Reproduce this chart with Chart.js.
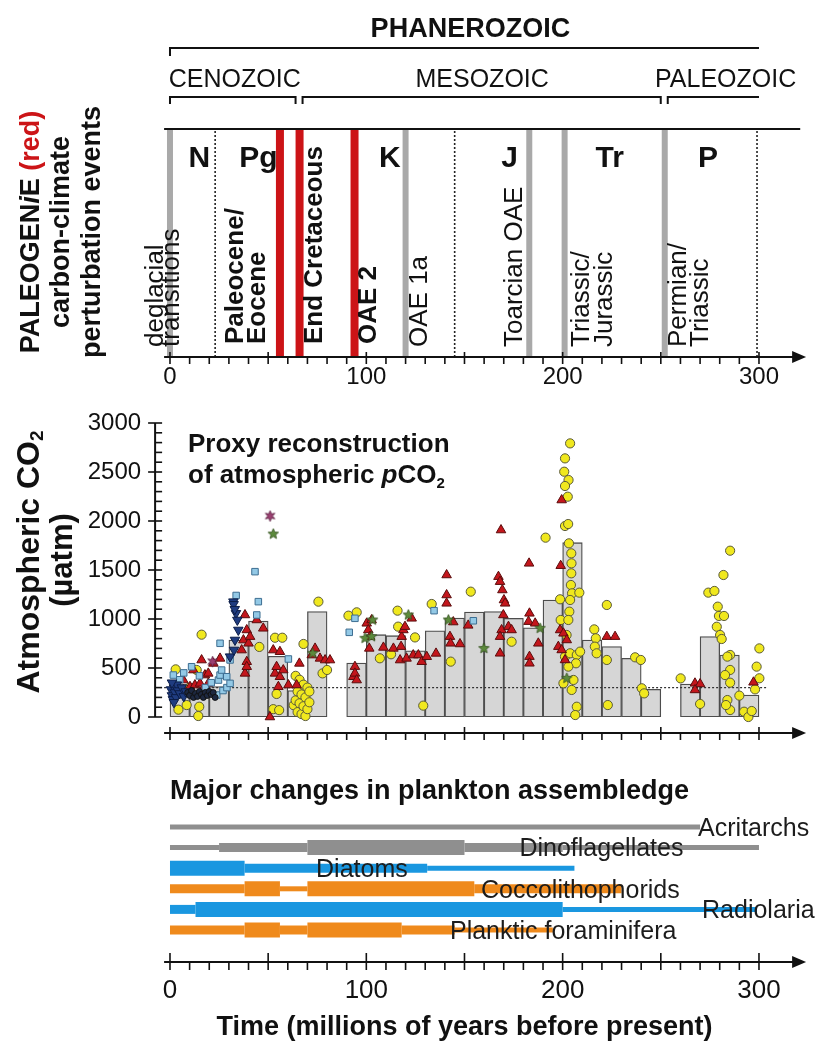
<!DOCTYPE html>
<html>
<head>
<meta charset="utf-8">
<script src="https://cdn.jsdelivr.net/npm/chart.js@4.4.1/dist/chart.umd.min.js"></script>
<style>
  body { margin: 0; background: #fff; }
  #wrap { position: relative; width: 817px; height: 1041px; overflow: hidden; background: #fff; }
  #wrap canvas { position: absolute; left: 0; }
</style>
</head>
<body>
<div id="wrap">
  <canvas id="eventsChart" width="817" height="400" style="top:0;width:817px;height:400px"></canvas>
  <canvas id="co2Chart" width="817" height="360" style="top:400px;width:817px;height:360px"></canvas>
  <canvas id="planktonChart" width="817" height="281" style="top:760px;width:817px;height:281px"></canvas>
</div>
<script>
// ---------- time frame (Myr before present) ----------
const eraNames = ['CENOZOIC', 'MESOZOIC', 'PALEOZOIC'];
const eraBounds = [0, 66, 252, 300];
const eraLabelAt = [33, 159, 283];
const periodNames = ['N', 'Pg', 'K', 'J', 'Tr', 'P'];
const periodLabelAt = [15, 45, 112, 173, 224, 274];
const periodBounds = [23, 66, 145, 201, 252, 299];
const timeTickLabels = [0, 100, 200, 300];

// carbon-climate perturbation events
const paleogenieEvents = [56, 66, 94];
const otherEvents = [0, 120, 183, 201, 252];
const eventLabels = [['deglacial', 'transitions'], ['Paleocene/', 'Eocene'], ['End Cretaceous'], ['OAE 2'],
  ['OAE 1a'], ['Toarcian OAE'], ['Triassic/', 'Jurassic'], ['Permian/', 'Triassic']];
const eventLabelAt = [[-7, 1], [33.6, 44.8], [73.9], [101.4], [127.4], [175.8], [209.9, 221.6], [259.3, 270.5]];
const eventLabelBold = [false, true, true, true, false, false, false, false];

// ---------- pCO2 proxy reconstruction ----------
const co2TickLabels = [0, 500, 1000, 1500, 2000, 2500, 3000];
const binStarts = [0, 10, 20, 30, 40, 50, 60, 70, 80, 90, 100, 110, 120, 130, 140,
  150, 160, 170, 180, 190, 200, 210, 220, 230, 240, 250, 260, 270, 280, 290];
const binMeanCO2 = [330, 330, 310, 785, 980, 620, 270, 1075, null, 550, 840, 830, 675, 880, 1010,
  1070, 1075, 1007, 911, 1194, 1779, 786, 718, 599, 282, null, 337, 820, 633, 224];
const referenceCO2 = 300;

const paleosolCO2 = [[2.9, 486], [4.3, 75], [8.5, 122], [14.9, 105], [14.4, 10], [16.1, 840], [13.6, 480], [10, 300],
  [45.5, 715], [53.5, 809], [57.2, 809], [54.3, 235], [52.6, 80], [55.6, 70],
  [63, 120], [64, 420], [64, 170], [65, 260], [65, 50], [66, 380], [66, 140], [67, 230], [67, 30], [68, 330],
  [68, 110], [69, 200], [69, 10], [70, 300], [70, 80], [71, 150], [71, 260], [68, 745], [75.6, 1177], [77.7, 445], [80, 480],
  [90.9, 1034], [95.1, 1068], [106.9, 599], [112.6, 640], [115.9, 1085], [116.2, 922], [124.8, 812], [129, 116],
  [133.3, 1153], [143, 565], [153.2, 1279], [174, 768], [191.3, 1830],
  [203.8, 2792], [201.2, 2639], [200.8, 2503], [203, 2418], [201.2, 2357], [202.6, 2248], [201.2, 1949], [202.8, 1969],
  [203.2, 1772], [204.4, 1670], [204.5, 1568], [204.4, 1466], [204.2, 1347], [204.8, 1262], [208.5, 1269], [198.7, 1201],
  [203.8, 1194], [203.4, 1075], [199, 990], [202.9, 990], [202, 837], [201.2, 616], [203.8, 650], [207.2, 633],
  [206.8, 548], [202.9, 514], [205.5, 378], [200.4, 344], [204.6, 276], [207.2, 105], [206.4, 20], [208.9, 667],
  [222.5, 1143], [216.1, 894], [216.9, 803], [216.4, 718], [217.3, 650], [222.5, 582], [223, 122],
  [236.9, 609], [239.8, 582], [240.3, 293], [241.5, 241], [260.1, 394], [270, 133],
  [285.3, 1697], [281.9, 1449], [274.2, 1269], [277.3, 1286], [279, 1126], [279.6, 1031], [282.2, 1031], [278.5, 921],
  [280.2, 837], [281, 796], [285.3, 633], [283.9, 616], [285.3, 480], [282.7, 428], [285.3, 350], [283.9, 173],
  [285.3, 71], [283.2, 122], [290, 218], [292.4, 54], [294.6, 0], [296.3, 61], [300.2, 700], [298.8, 514],
  [300.2, 395], [298, 282]];
const stomataCO2 = [[3.4, 275], [6.8, 275], [6.8, 377], [10.2, 309], [11.9, 479], [12.7, 326], [15.3, 343], [16.1, 581],
  [16.1, 258], [17.8, 428], [19.5, 445], [19.5, 343], [22.1, 547], [25.5, 598],
  [36.5, 683], [37.4, 785], [38.2, 1041], [38.2, 445], [39.1, 888], [39.1, 564], [39.1, 513], [40, 752], [40.8, 820],
  [44.2, 990], [47.5, 905], [50.9, 0], [52.6, 683], [53.5, 445], [54.3, 513], [55.2, 309], [56, 666], [56, 411],
  [57.7, 479], [60.3, 326], [64.5, 326], [65.9, 547], [72.2, 632], [73.9, 700], [76.4, 598], [79, 581], [81.5, 581],
  [93.4, 411], [94.2, 514], [94.2, 445], [95.1, 377], [100.2, 956], [101, 888], [101.5, 700], [101.9, 820], [102.7, 990],
  [108.7, 710], [113.8, 700], [117.2, 581], [117.7, 718], [118, 820], [118.9, 888], [119.7, 922], [120.5, 598], [123.1, 1007],
  [123.9, 632], [126.5, 632], [128.2, 564], [130.8, 615], [135.5, 649],
  [140.9, 1449], [140.9, 1245], [140.9, 1160], [142.6, 820], [142.9, 752], [144.3, 969], [147.7, 745], [151.9, 935],
  [167.3, 1432], [168.1, 1381], [168.6, 1908], [169.3, 1296], [170.1, 1194], [170.7, 1160], [169.8, 1041], [168.9, 888],
  [172.4, 922], [174, 888], [168.1, 820], [168.1, 650], [182.9, 1568], [183.1, 1058], [182.6, 973], [186, 956],
  [187.6, 752], [183.1, 616], [183.1, 548], [199.5, 2214], [199, 1544], [198.7, 888], [200.4, 854], [197.8, 718],
  [202.1, 786], [199.5, 684], [201.2, 582], [222.5, 820], [226.7, 820],
  [267.4, 344], [270, 337], [267.4, 276], [297.2, 354]];
const boronCO2 = [[1.7, 428], [5, 380], [7, 450], [11, 513], [15, 420], [18, 300], [21, 350], [23.8, 224], [24.7, 377],
  [25.5, 428], [26.3, 479], [25.5, 752], [27, 270], [28.9, 411], [29, 300], [30.6, 343], [30.6, 582], [33.7, 1240],
  [43.3, 1483], [45, 1177], [44.2, 1041], [60.3, 592], [91.3, 864], [94.2, 1007], [134.5, 1085], [154.5, 982]];
const alkenoneCO2 = [[0.5, 280], [1, 220], [1.5, 180], [2, 300], [2.5, 250], [3, 200], [3.5, 330], [4, 270], [5, 240],
  [6, 300], [7, 210], [8, 260], [1, 350], [2, 150], [30.6, 616], [32.3, 1177], [32.6, 684], [33.1, 786], [33.6, 1058],
  [34.3, 990], [34.8, 888], [32.4, 1150], [33, 1100]];
const iceAndOtherCO2 = [[9, 250], [10, 220], [11, 270], [12, 200], [13, 240], [14, 210], [15, 260], [16, 230],
  [17, 200], [18, 250], [19, 220], [20, 260], [21, 230], [22, 250], [23, 200]];
const liverwortCO2 = [[52.6, 1867], [72.7, 650], [99.3, 803], [102.7, 820], [103.2, 990], [121.4, 1041],
  [141.8, 990], [159.9, 700], [188.5, 905], [202.1, 395]];
const nahcoliteCO2 = [[51, 2051], [21.7, 565]];

// ---------- plankton assemblage (diversity level 1 low .. 3 high) ----------
const taxa = ['Acritarchs', 'Dinoflagellates', 'Diatoms', 'Coccolithophorids', 'Radiolaria', 'Planktic foraminifera'];
const taxaBreaks = [
  [0, 270],
  [0, 25, 70, 150, 200, 300],
  [0, 38, 131, 206],
  [0, 38, 56, 70, 155, 230],
  [0, 13, 200, 299],
  [0, 38, 56, 70, 118, 145, 195]
];
const taxaLevels = [
  [1],
  [1, 2, 3, 2, 1],
  [3, 2, 1],
  [2, 3, 1, 3, 2],
  [2, 3, 1],
  [2, 3, 2, 3, 2, 1]
];
const taxaLabelAt = [269, 178, 74.4, 158.4, 271, 142.6];

// ---------- styling ----------
const FONT = '"Liberation Sans", Arial, Helvetica, sans-serif';
const INK = '#111';
const RED = '#cc1417';
const taxaColors = ['#8f8f8f', '#8f8f8f', '#1a97e0', '#ef8a1c', '#1a97e0', '#ef8a1c'];
const levelWidth = { 1: 5, 2: 9, 3: 15 };
const X_MIN = -3, X_MAX = 324;
const xScale = { type: 'linear', min: X_MIN, max: X_MAX, display: false, offset: false };
const pad = (top, bottom) => ({ left: 164.1, right: 10.9, top, bottom });
const baseOptions = {
  responsive: false,
  animation: false,
  devicePixelRatio: 1,
  events: [],
  plugins: { legend: { display: false }, tooltip: { enabled: false } }
};

const starImage = (fill, stroke, n, size) => {
  const c = document.createElement('canvas');
  c.width = c.height = size;
  const g = c.getContext('2d');
  const r = size / 2 - 1, ri = r * 0.45;
  g.beginPath();
  for (let i = 0; i < 2 * n; i++) {
    const a = -Math.PI / 2 + i * Math.PI / n;
    const rr = i % 2 ? ri : r;
    g.lineTo(size / 2 + rr * Math.cos(a), size / 2 + rr * Math.sin(a));
  }
  g.closePath();
  g.fillStyle = fill;
  g.fill();
  g.strokeStyle = stroke;
  g.lineWidth = 0.8;
  g.stroke();
  return c;
};

// rotated or straight text made of differently styled parts
const drawParts = (ctx, parts, x, y, align, rotate) => {
  ctx.save();
  ctx.translate(x, y);
  if (rotate) ctx.rotate(-Math.PI / 2);
  ctx.textAlign = 'left';
  let total = 0;
  parts.forEach(p => { ctx.font = p.font; total += ctx.measureText(p.t).width; });
  let cx = align === 'center' ? -total / 2 : 0;
  parts.forEach(p => {
    ctx.font = p.font;
    ctx.fillStyle = p.color || INK;
    ctx.fillText(p.t, cx, p.dy || 0);
    cx += ctx.measureText(p.t).width;
  });
  ctx.restore();
};

const timeAxis = (ctx, x, y, majUp, tickDown) => {
  const x0 = x.getPixelForValue(X_MIN);
  const tip = x.getPixelForValue(X_MAX);
  ctx.strokeStyle = INK;
  ctx.fillStyle = INK;
  ctx.lineWidth = 2;
  ctx.beginPath();
  ctx.moveTo(x0, y);
  ctx.lineTo(tip - 8, y);
  ctx.stroke();
  ctx.beginPath();
  ctx.moveTo(tip, y);
  ctx.lineTo(tip - 14, y - 6);
  ctx.lineTo(tip - 14, y + 6);
  ctx.closePath();
  ctx.fill();
  ctx.lineWidth = 1.6;
  for (let v = 0; v <= 300; v += 10) {
    const px = x.getPixelForValue(v);
    ctx.beginPath();
    ctx.moveTo(px, y - (v % 50 === 0 ? majUp : 0));
    ctx.lineTo(px, y + tickDown);
    ctx.stroke();
  }
};

// ---------- panel 1: events ----------
const eventsDecor = {
  id: 'eventsDecor',
  afterDraw(chart) {
    const { ctx, chartArea: a, scales: { x } } = chart;
    ctx.save();
    ctx.strokeStyle = INK;
    ctx.fillStyle = INK;
    ctx.lineWidth = 2;
    ctx.beginPath();
    ctx.moveTo(x.getPixelForValue(X_MIN), a.top);
    ctx.lineTo(x.getPixelForValue(321), a.top);
    ctx.stroke();
    timeAxis(ctx, x, a.bottom, 5, 7);

    ctx.textAlign = 'center';
    ctx.textBaseline = 'alphabetic';
    ctx.font = '24px ' + FONT;
    timeTickLabels.forEach(v => ctx.fillText(String(v), x.getPixelForValue(v), a.bottom + 27));

    ctx.font = 'bold 30px ' + FONT;
    ctx.textBaseline = 'middle';
    periodNames.forEach((n, i) => ctx.fillText(n, x.getPixelForValue(periodLabelAt[i]), a.top + 30));

    eventLabels.forEach((lines, i) => lines.forEach((s, j) => {
      ctx.save();
      ctx.translate(x.getPixelForValue(eventLabelAt[i][j]), eventLabelBold[i] ? 344 : 347);
      ctx.rotate(-Math.PI / 2);
      ctx.font = (eventLabelBold[i] ? 'bold ' : '') + '26px ' + FONT;
      ctx.textAlign = 'left';
      ctx.textBaseline = 'middle';
      ctx.fillText(s, 0, 0);
      ctx.restore();
    }));

    // eon / era brackets
    ctx.lineWidth = 2;
    ctx.beginPath();
    ctx.moveTo(x.getPixelForValue(0), 56);
    ctx.lineTo(x.getPixelForValue(0), 48);
    ctx.lineTo(x.getPixelForValue(300), 48);
    ctx.stroke();
    ctx.font = 'bold 27px ' + FONT;
    ctx.textBaseline = 'alphabetic';
    ctx.fillText('PHANEROZOIC', x.getPixelForValue(153), 37);
    ctx.font = '25px ' + FONT;
    eraNames.forEach((n, i) => {
      const l = x.getPixelForValue(eraBounds[i]) + (i ? 3 : 0);
      const r = x.getPixelForValue(eraBounds[i + 1]) - (i < 2 ? 4 : 0);
      ctx.beginPath();
      ctx.moveTo(l, 104);
      ctx.lineTo(l, 97);
      ctx.lineTo(r, 97);
      if (i < 2) ctx.lineTo(r, 104);
      ctx.stroke();
      ctx.fillText(n, x.getPixelForValue(eraLabelAt[i]), 87);
    });

    // panel title
    ctx.textBaseline = 'middle';
    const b = 'bold 27px ' + FONT;
    drawParts(ctx, [{ t: 'PALEOGEN', font: b }, { t: 'i', font: 'italic ' + b }, { t: 'E', font: b },
      { t: ' (red)', font: b, color: RED }], 32, 232, 'center', true);
    drawParts(ctx, [{ t: 'carbon-climate', font: b }], 62, 232, 'center', true);
    drawParts(ctx, [{ t: 'perturbation events', font: b }], 93, 232, 'center', true);
    ctx.restore();
  }
};

const eventBand = (age, color, width) => ({
  data: [{ x: age, y: 0 }, { x: age, y: 1 }],
  borderColor: color,
  borderWidth: width,
  borderCapStyle: 'butt',
  pointRadius: 0
});

new Chart(document.getElementById('eventsChart'), {
  type: 'line',
  data: {
    datasets: [
      ...otherEvents.map(a => eventBand(a, '#a9a9a9', 6)),
      ...paleogenieEvents.map(a => eventBand(a, RED, 8)),
      ...periodBounds.map(a => ({ ...eventBand(a, '#222', 1.6), borderDash: [2, 2] }))
    ]
  },
  options: {
    ...baseOptions,
    layout: { padding: pad(129, 43) },
    scales: { x: xScale, y: { type: 'linear', min: 0, max: 1, display: false } }
  },
  plugins: [eventsDecor]
});

// ---------- panel 2: pCO2 ----------
const co2Decor = {
  id: 'co2Decor',
  afterDraw(chart) {
    const { ctx, chartArea: a, scales: { x, y } } = chart;
    ctx.save();
    timeAxis(ctx, x, a.bottom + 16, 6, 7);

    const yx = a.left - 9;
    ctx.lineWidth = 2;
    ctx.beginPath();
    ctx.moveTo(yx, y.getPixelForValue(0));
    ctx.lineTo(yx, y.getPixelForValue(3000));
    ctx.stroke();
    ctx.lineWidth = 1.6;
    for (let v = 0; v <= 3000; v += 100) {
      const py = y.getPixelForValue(v);
      ctx.beginPath();
      ctx.moveTo(yx - (v % 500 === 0 ? 7 : 0), py);
      ctx.lineTo(yx + 7, py);
      ctx.stroke();
    }
    ctx.font = '24px ' + FONT;
    ctx.textAlign = 'right';
    ctx.textBaseline = 'middle';
    co2TickLabels.forEach(v => ctx.fillText(String(v), yx - 14, y.getPixelForValue(v)));

    ctx.textBaseline = 'alphabetic';
    const b = 'bold 26px ' + FONT;
    drawParts(ctx, [{ t: 'Proxy reconstruction', font: b }], 188, 52, 'left', false);
    drawParts(ctx, [{ t: 'of atmospheric ', font: b }, { t: 'p', font: 'italic ' + b }, { t: 'CO', font: b },
      { t: '2', font: 'bold 15px ' + FONT, dy: 5 }], 188, 83, 'left', false);

    ctx.textBaseline = 'middle';
    const bt = 'bold 32px ' + FONT;
    drawParts(ctx, [{ t: 'Atmospheric CO', font: bt }, { t: '2', font: 'bold 19px ' + FONT, dy: 8 }], 30, 162, 'center', true);
    drawParts(ctx, [{ t: '(\u00b5atm)', font: 'bold 31px ' + FONT }], 63, 160, 'center', true);
    ctx.restore();
  }
};

const proxySeries = (pts, style) => ({
  type: 'scatter',
  data: pts.map(([age, co2]) => ({ x: age, y: co2 })),
  clip: false,
  borderWidth: 1,
  ...style
});

new Chart(document.getElementById('co2Chart'), {
  type: 'scatter',
  data: {
    datasets: [
      {
        type: 'bar',
        data: binStarts.map((b, i) => ({ x: b + 5, y: binMeanCO2[i] })).filter(d => d.y !== null),
        backgroundColor: '#d6d6d6',
        borderColor: '#4d4d4d',
        borderWidth: 1.3,
        borderSkipped: false,
        barPercentage: 1,
        categoryPercentage: 1,
        order: 10
      },
      {
        type: 'line',
        data: [{ x: X_MIN, y: referenceCO2 }, { x: 304, y: referenceCO2 }],
        borderColor: '#333',
        borderWidth: 1.2,
        borderDash: [2, 2],
        pointRadius: 0,
        order: 9
      },
      proxySeries(paleosolCO2, { pointStyle: 'circle', pointRadius: 4.6, backgroundColor: '#f0e81e', borderColor: '#5a5a3a', order: 7 }),
      proxySeries(stomataCO2, { pointStyle: 'triangle', pointRadius: 5.5, backgroundColor: '#c4161c', borderColor: '#5a0c0c', order: 6 }),
      proxySeries(boronCO2, { pointStyle: 'rect', pointRadius: 4.6, backgroundColor: '#93c9e6', borderColor: '#3d6e92', order: 5 }),
      proxySeries(alkenoneCO2, { pointStyle: 'triangle', pointRotation: 180, pointRadius: 5.5, backgroundColor: '#1f3c80', borderColor: '#0c1d47', order: 4 }),
      proxySeries(iceAndOtherCO2, { pointStyle: 'circle', pointRadius: 3, backgroundColor: '#1d2840', borderColor: '#111', order: 3 }),
      proxySeries(liverwortCO2, { pointStyle: starImage('#5c8a3c', '#33501f', 5, 13), order: 2 }),
      proxySeries(nahcoliteCO2, { pointStyle: starImage('#9b3f71', '#5a2040', 6, 13), order: 1 })
    ]
  },
  options: {
    ...baseOptions,
    layout: { padding: pad(23, 43) },
    scales: { x: xScale, y: { type: 'linear', min: 0, max: 3000, display: false } }
  },
  plugins: [co2Decor]
});

// ---------- panel 3: plankton ----------
const planktonDecor = {
  id: 'planktonDecor',
  afterDraw(chart) {
    const { ctx, chartArea: a, scales: { x, y } } = chart;
    ctx.save();
    ctx.fillStyle = '#1c1c1c';
    ctx.font = '25px ' + FONT;
    ctx.textAlign = 'left';
    ctx.textBaseline = 'middle';
    taxa.forEach((t, i) => ctx.fillText(t, x.getPixelForValue(taxaLabelAt[i]), y.getPixelForValue(i) + 2));

    ctx.fillStyle = INK;
    ctx.font = 'bold 27px ' + FONT;
    ctx.textBaseline = 'alphabetic';
    ctx.fillText('Major changes in plankton assembledge', x.getPixelForValue(0), 39);

    const axisY = 202;
    timeAxis(ctx, x, axisY, 9, 8);
    ctx.font = '26px ' + FONT;
    ctx.textAlign = 'center';
    timeTickLabels.forEach(v => ctx.fillText(String(v), x.getPixelForValue(v), axisY + 36));
    ctx.font = 'bold 27px ' + FONT;
    ctx.fillText('Time (millions of years before present)', x.getPixelForValue(150), axisY + 73);
    ctx.restore();
  }
};

new Chart(document.getElementById('planktonChart'), {
  type: 'line',
  data: {
    datasets: taxa.map((t, i) => ({
      label: t,
      data: taxaBreaks[i].map(b => ({ x: b, y: i })),
      borderColor: taxaColors[i],
      borderWidth: levelWidth[1],
      borderCapStyle: 'butt',
      pointRadius: 0,
      clip: false,
      segment: { borderWidth: c => levelWidth[taxaLevels[i][c.p0DataIndex]] }
    }))
  },
  options: {
    ...baseOptions,
    layout: { padding: pad(67, 111) },
    scales: { x: xScale, y: { type: 'linear', min: 0, max: 5, reverse: true, display: false } }
  },
  plugins: [planktonDecor]
});
</script>
</body>
</html>
